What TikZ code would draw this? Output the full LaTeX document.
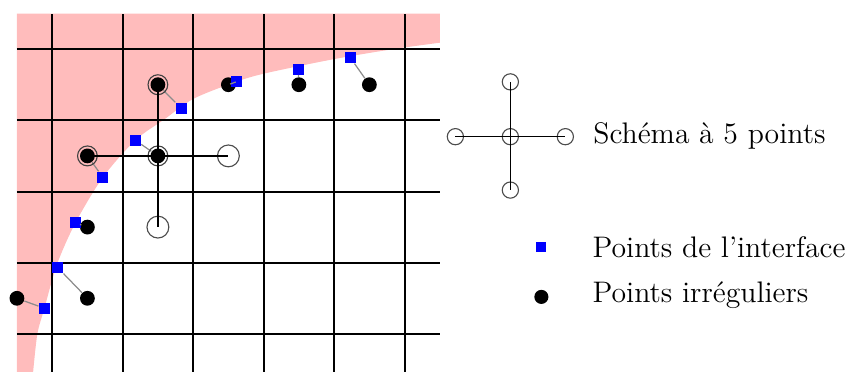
\documentclass[tikz,border=0pt]{standalone}
\usepackage{fontspec}
\usepackage{tikz}
\usetikzlibrary{shapes}
\definecolor{phasepink}{RGB}{255,188,188}
\definecolor{intfblue}{RGB}{0,0,255}

\tikzset{
	gridline/.style={black,line width=0.8pt},
	irr/.style={circle,fill=black,inner sep=0pt,minimum size=0.21cm},
	intf/.style={rectangle,fill=intfblue,inner sep=0pt,minimum size=0.155cm},
	opendot/.style={circle,draw=black!70,line width=0.45pt,inner sep=0pt,minimum size=0.31cm},
	ringc/.style={draw=black!75,line width=0.45pt},
	link/.style={draw=black!45,line width=0.5pt},
	stencil/.style={draw=black,line width=0.6pt},
	legend/.style={anchor=base west,inner sep=0pt,font=\fontsize{12}{14}\selectfont}
}

\begin{document}
\begin{tikzpicture}[x=1cm,y=1.01cm]
		\useasboundingbox (-0.74,-0.534) rectangle (11.46,4.69);
		% domaine
		\fill[phasepink] (-0.5,-0.534) -- (-0.5,4.5) -- (5.5,4.5) --
			plot[smooth] coordinates {(5.5,4.09) (4.84,4.0) (4.0,3.86) (3.0,3.655) (2.55,3.52)
			(2.0,3.3) (1.6,3.02) (1.18,2.72) (0.72,2.2) (0.33,1.56) (0.07,0.98) (-0.11,0.36)
			(-0.21,0) (-0.27,-0.534)}
			-- cycle;
		% grille
		\foreach \x in {0,...,5}
			\draw[gridline] (\x,-0.534) -- (\x,4.5);
		\foreach \y in {0,...,4}
			\draw[gridline] (-0.5,\y) -- (5.5,\y);

		% points irreguliers et points de l'interface
		\foreach \n/\px/\py/\sx/\sy in {1/-0.5/0.5/-0.11/0.36, 2/0.5/0.5/0.08/0.93,
			3/0.5/1.5/0.33/1.56, 4/0.5/2.5/0.72/2.2, 5/1.5/2.5/1.18/2.72,
			6/1.5/3.5/1.83/3.17, 7/2.5/3.5/2.61/3.54, 8/3.5/3.5/3.49/3.72, 9/4.5/3.5/4.23/3.88} {
			\node[irr] (p\n) at (\px,\py) {};
			\node[intf] (s\n) at (\sx,\sy) {};
			\draw[link] (p\n) -- (s\n);
		}
		\foreach \n in {4,5,6}
			\draw[ringc] (p\n) circle (0.14);

		% schema a 5 points
		\node[opendot] (o1) at (2.5,2.5) {};
		\node[opendot] (o2) at (1.5,1.5) {};
		\draw[stencil] (p4.center) -- (o1.center);
		\draw[stencil] (p6.center) -- (o2.center);

		%% legende
		\node[opendot,minimum size=0.23cm] (lc) at (6.5,2.77) {};
		\node[opendot,minimum size=0.23cm] (lw) at (5.72,2.77) {};
		\node[opendot,minimum size=0.23cm] (le) at (7.28,2.77) {};
		\node[opendot,minimum size=0.23cm] (ln) at (6.5,3.54) {};
		\node[opendot,minimum size=0.23cm] (ls) at (6.5,2.02) {};
		\draw[stencil] (lw.center) -- (le.center);
		\draw[stencil] (ln.center) -- (ls.center);
		\node[legend] (t1) at (7.67,2.68) {Schéma à 5 points};

		\node[intf,minimum size=0.14cm] (lsq) at (6.94,1.22) {};
		\node[legend] (t2) at (7.66,1.08) {Points de l'interface};
		\node[irr,minimum size=0.2cm] (ldot) at (6.94,0.52) {};
		\node[legend] (t3) at (7.66,0.435) {Points irréguliers};
\end{tikzpicture}
\end{document}
